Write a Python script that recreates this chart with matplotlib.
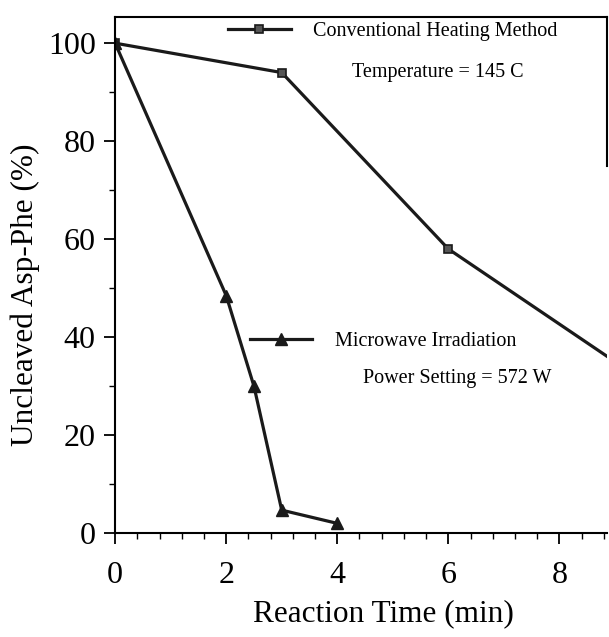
import matplotlib
matplotlib.use("Agg")
import matplotlib.pyplot as plt
from matplotlib.ticker import MultipleLocator

# === data ===
conv_time = [0, 3, 6, 9]
conv_uncleaved = [100, 94, 58, 35]
micro_time = [0, 2, 2.5, 3, 4]
micro_uncleaved = [100, 48.5, 30, 4.7, 2]

plt.rcParams['font.family'] = ['Liberation Serif', 'DejaVu Serif']

fig = plt.figure(figsize=(6.09, 6.37), dpi=100)
ax = fig.add_axes([0.189, 0.163, 0.808, 0.81])

l1, = ax.plot(conv_time, conv_uncleaved, color='#1a1a1a', lw=2.3,
              marker='s', ms=6, mfc='#555555', mec='#1a1a1a', mew=1.2)
l2, = ax.plot(micro_time, micro_uncleaved, color='#1a1a1a', lw=2.3,
              marker='^', ms=8, mfc='#1a1a1a', mec='#1a1a1a')

ax.set_xlim(0, 8.86)
ax.set_ylim(0, 105.3)

ax.xaxis.set_major_locator(MultipleLocator(2))
ax.xaxis.set_minor_locator(MultipleLocator(0.4))
ax.yaxis.set_major_locator(MultipleLocator(20))
ax.yaxis.set_minor_locator(MultipleLocator(10))
ax.tick_params(which='major', length=8, width=1.3, labelsize=23, pad=6)
ax.tick_params(which='minor', length=4, width=1.0)
ax.tick_params(axis='x', pad=12)

for s in ax.spines.values():
    s.set_linewidth(1.5)
ax.spines['right'].set_bounds(75, 105.3)

ax.set_xlabel("Reaction Time (min)", fontsize=22.5, labelpad=1)
ax.set_ylabel("Uncleaved Asp-Phe (%)", fontsize=22.5, labelpad=-1)
ax.xaxis.set_label_coords(0.545, -0.128)
ax.yaxis.set_label_coords(-0.152, 0.463)

# legends as in the scan
leg1 = ax.legend([l1], ["Conventional Heating Method"], loc='center left',
                 bbox_to_anchor=(0.23, 0.973), frameon=False, fontsize=14.5,
                 handlelength=3.1, handletextpad=1.1, borderpad=0, borderaxespad=0)
ax.add_artist(leg1)
ax.legend([l2], ["Microwave Irradiation"], loc='center left',
          bbox_to_anchor=(0.274, 0.372), frameon=False, fontsize=14.5,
          handlelength=3.1, handletextpad=1.1, borderpad=0, borderaxespad=0)

ax.text(0.655, 0.893, "Temperature = 145 C", transform=ax.transAxes,
        ha='center', va='center', fontsize=14.5)
ax.text(0.695, 0.30, "Power Setting = 572 W", transform=ax.transAxes,
        ha='center', va='center', fontsize=14.5)

fig.savefig("out.png", dpi=100)
